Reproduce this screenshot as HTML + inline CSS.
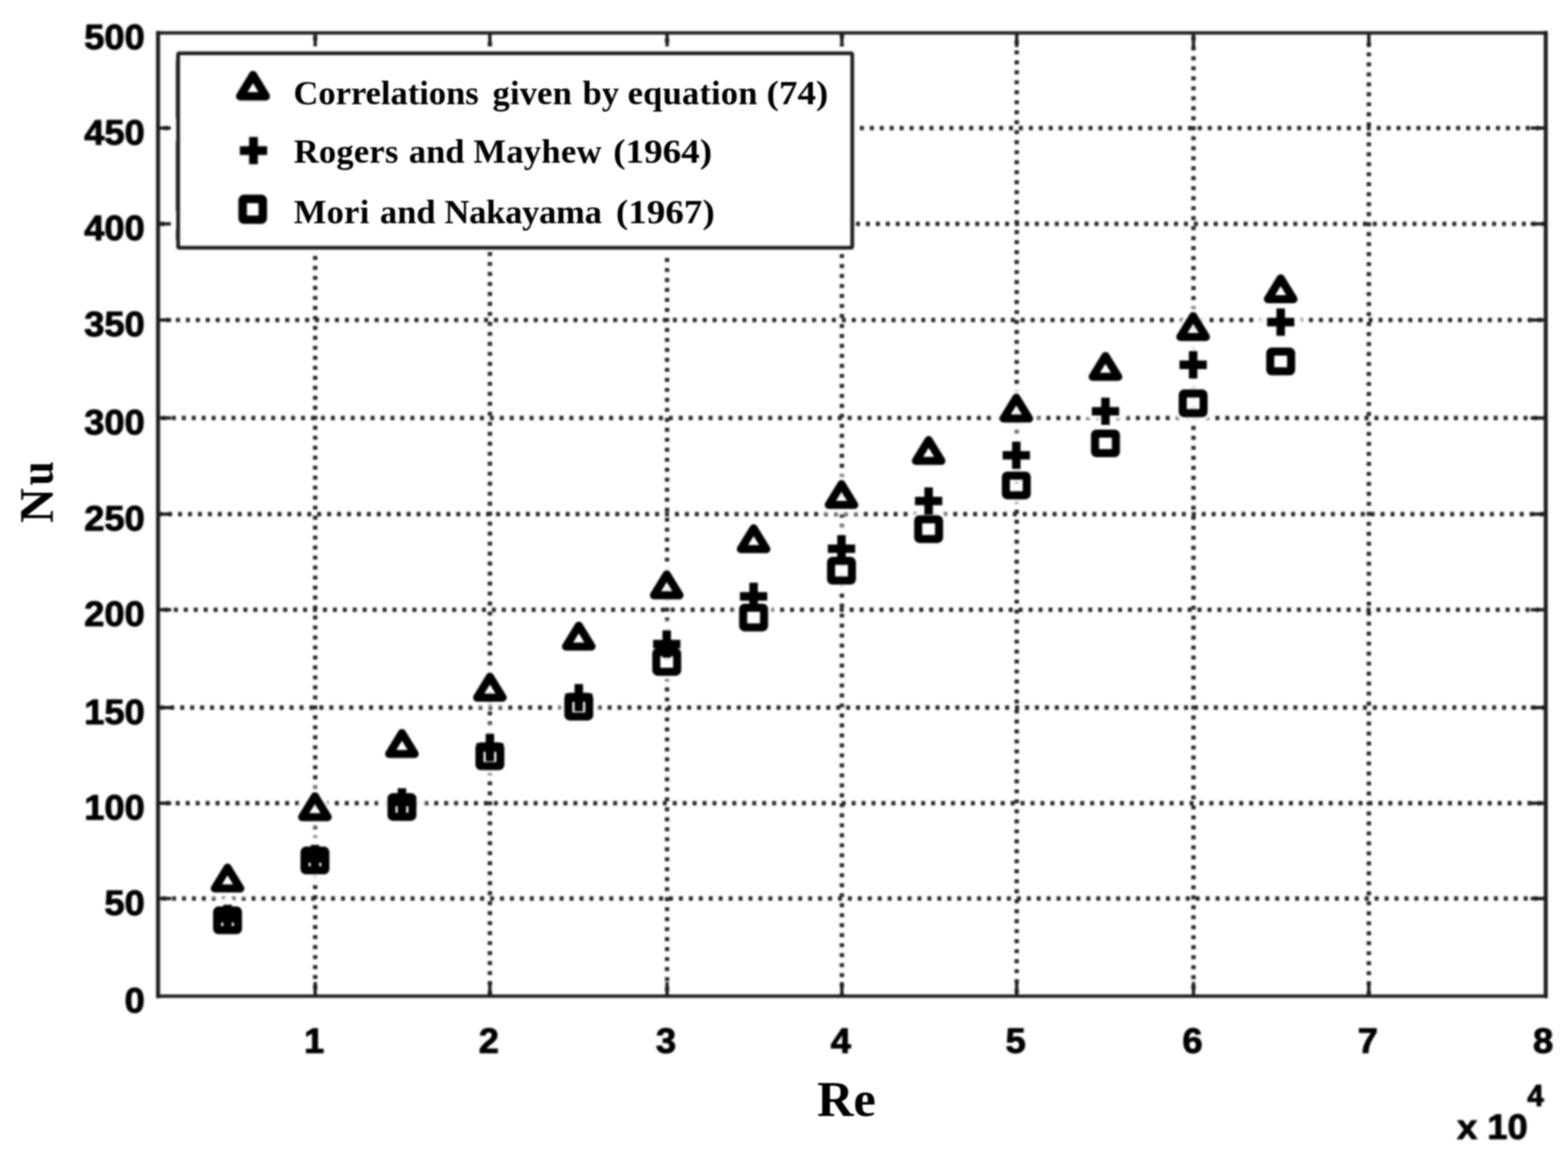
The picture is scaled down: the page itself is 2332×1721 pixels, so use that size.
<!DOCTYPE html>
<html lang="en"><head><meta charset="utf-8"><title>Nu versus Re</title>
<style>
html,body{margin:0;padding:0;background:#fff;}
body{width:2332px;height:1721px;overflow:hidden;}
svg{display:block;}
.tk{font-family:"Liberation Sans",sans-serif;font-weight:bold;font-size:52.6px;fill:#000;stroke:#000;stroke-width:1.3px;stroke-linejoin:round;}
.lg{font-family:"Liberation Serif",serif;font-weight:bold;font-size:51.3px;fill:#000;}
.ax{font-family:"Liberation Serif",serif;font-weight:bold;font-size:72px;fill:#000;}
</style></head><body>
<svg width="2332" height="1721" viewBox="0 0 2332 1721">
<defs><filter id="b" x="-5%" y="-5%" width="110%" height="110%" color-interpolation-filters="sRGB"><feGaussianBlur stdDeviation="1.7"/></filter><filter id="b2" x="-5%" y="-5%" width="110%" height="110%" color-interpolation-filters="sRGB"><feGaussianBlur stdDeviation="0.8"/></filter></defs>
<rect x="0" y="0" width="2332" height="1721" fill="#fff"/>
<g filter="url(#b)">
<g stroke="#262626" stroke-width="6.5" fill="none">
<path d="M468.8 53.91 V1481.8" stroke-dasharray="5.9 8.956"/>
<path d="M728.6 62.86 V1481.8" stroke-dasharray="5.9 8.956"/>
<path d="M992.1 56.96 V1481.8" stroke-dasharray="5.9 8.956"/>
<path d="M1252.1 51.06 V1481.8" stroke-dasharray="5.9 8.956"/>
<path d="M1512.1 60.02 V1481.8" stroke-dasharray="5.9 8.956"/>
<path d="M1775.0 54.12 V1481.8" stroke-dasharray="5.9 8.956"/>
<path d="M2035.8 63.07 V1481.8" stroke-dasharray="5.9 8.956"/>
<path d="M241.13 1336.6 H2298.9" stroke-dasharray="5.9 8.881"/>
<path d="M246.73 1194.8 H2298.9" stroke-dasharray="5.9 8.881"/>
<path d="M238.53 1052.5 H2298.9" stroke-dasharray="5.9 8.881"/>
<path d="M243.83 907.1 H2298.9" stroke-dasharray="5.9 8.881"/>
<path d="M235.25 764.8 H2298.9" stroke-dasharray="5.9 8.881"/>
<path d="M240.83 621.8 H2298.9" stroke-dasharray="5.9 8.881"/>
<path d="M246.93 476.0 H2298.9" stroke-dasharray="5.9 8.881"/>
<path d="M238.43 332.9 H2298.9" stroke-dasharray="5.9 8.881"/>
<path d="M244.23 190.6 H2298.9" stroke-dasharray="5.9 8.881"/>
</g>
<g stroke="#1e1e1e" stroke-width="5" fill="none">
<path d="M468.8 49.0 v21 M468.8 1481.8 v-21"/>
<path d="M728.6 49.0 v21 M728.6 1481.8 v-21"/>
<path d="M992.1 49.0 v21 M992.1 1481.8 v-21"/>
<path d="M1252.1 49.0 v21 M1252.1 1481.8 v-21"/>
<path d="M1512.1 49.0 v21 M1512.1 1481.8 v-21"/>
<path d="M1775.0 49.0 v21 M1775.0 1481.8 v-21"/>
<path d="M2035.8 49.0 v21 M2035.8 1481.8 v-21"/>
<path d="M235.1 1336.6 h19.5 M2298.9 1336.6 h-22.5"/>
<path d="M235.1 1194.8 h19.5 M2298.9 1194.8 h-22.5"/>
<path d="M235.1 1052.5 h19.5 M2298.9 1052.5 h-22.5"/>
<path d="M235.1 907.1 h19.5 M2298.9 907.1 h-22.5"/>
<path d="M235.1 764.8 h19.5 M2298.9 764.8 h-22.5"/>
<path d="M235.1 621.8 h19.5 M2298.9 621.8 h-22.5"/>
<path d="M235.1 476.0 h19.5 M2298.9 476.0 h-22.5"/>
<path d="M235.1 332.9 h19.5 M2298.9 332.9 h-22.5"/>
<path d="M235.1 190.6 h19.5 M2298.9 190.6 h-22.5"/>
</g>
<g stroke="#1e1e1e" fill="none" stroke-linecap="square"><path d="M235.1 49.0 H2298.9 M235.1 1481.8 H2298.9" stroke-width="5.0"/><path d="M235.1 49.0 V1481.8 M2298.9 49.0 V1481.8" stroke-width="6.0"/></g>
<g stroke="#fff" fill="none" stroke-linejoin="round" stroke-linecap="round" opacity="0.4">
<path d="M338.4 1290.6 L357.4 1321.6 L319.4 1321.6 Z" stroke-width="32.0"/>
<path d="M318.1 1366.0 H358.7 M338.4 1345.7 V1386.3" stroke-width="32.6"/>
<rect x="322.9" y="1354.3" width="31.0" height="29.2" rx="2" stroke-width="32.0"/>
<path d="M468.4 1184.4 L487.4 1215.4 L449.4 1215.4 Z" stroke-width="32.0"/>
<path d="M448.1 1277.0 H488.7 M468.4 1256.7 V1297.3" stroke-width="32.6"/>
<rect x="452.9" y="1265.3" width="31.0" height="29.2" rx="2" stroke-width="32.0"/>
<path d="M597.8 1090.4 L616.8 1121.4 L578.8 1121.4 Z" stroke-width="32.0"/>
<path d="M577.5 1192.9 H618.1 M597.8 1172.6 V1213.2" stroke-width="32.6"/>
<rect x="582.3" y="1185.7" width="31.0" height="29.2" rx="2" stroke-width="32.0"/>
<path d="M728.6 1006.7 L747.6 1037.7 L709.6 1037.7 Z" stroke-width="32.0"/>
<path d="M708.3 1111.9 H748.9 M728.6 1091.6 V1132.2" stroke-width="32.6"/>
<rect x="713.1" y="1110.3" width="31.0" height="29.2" rx="2" stroke-width="32.0"/>
<path d="M860.8 930.7 L879.8 961.7 L841.8 961.7 Z" stroke-width="32.0"/>
<path d="M840.5 1037.8 H881.1 M860.8 1017.5 V1058.1" stroke-width="32.6"/>
<rect x="845.3" y="1036.5" width="31.0" height="29.2" rx="2" stroke-width="32.0"/>
<path d="M991.6 854.4 L1010.6 885.4 L972.6 885.4 Z" stroke-width="32.0"/>
<path d="M971.3 958.0 H1011.9 M991.6 937.7 V978.3" stroke-width="32.6"/>
<rect x="976.1" y="970.0" width="31.0" height="29.2" rx="2" stroke-width="32.0"/>
<path d="M1120.8 785.8 L1139.8 816.8 L1101.8 816.8 Z" stroke-width="32.0"/>
<path d="M1100.5 887.1 H1141.1 M1120.8 866.8 V907.4" stroke-width="32.6"/>
<rect x="1105.3" y="904.0" width="31.0" height="29.2" rx="2" stroke-width="32.0"/>
<path d="M1251.5 720.1 L1270.5 751.1 L1232.5 751.1 Z" stroke-width="32.0"/>
<path d="M1231.2 816.2 H1271.8 M1251.5 795.9 V836.5" stroke-width="32.6"/>
<rect x="1236.0" y="834.3" width="31.0" height="29.2" rx="2" stroke-width="32.0"/>
<path d="M1381.1 654.6 L1400.1 685.6 L1362.1 685.6 Z" stroke-width="32.0"/>
<path d="M1360.8 745.3 H1401.4 M1381.1 725.0 V765.6" stroke-width="32.6"/>
<rect x="1365.6" y="772.5" width="31.0" height="29.2" rx="2" stroke-width="32.0"/>
<path d="M1511.5 591.6 L1530.5 622.6 L1492.5 622.6 Z" stroke-width="32.0"/>
<path d="M1491.2 677.2 H1531.8 M1511.5 656.9 V697.5" stroke-width="32.6"/>
<rect x="1496.0" y="707.5" width="31.0" height="29.2" rx="2" stroke-width="32.0"/>
<path d="M1644.1 529.5 L1663.1 560.5 L1625.1 560.5 Z" stroke-width="32.0"/>
<path d="M1623.8 611.8 H1664.4 M1644.1 591.5 V632.1" stroke-width="32.6"/>
<rect x="1628.6" y="644.9" width="31.0" height="29.2" rx="2" stroke-width="32.0"/>
<path d="M1774.5 470.2 L1793.5 501.2 L1755.5 501.2 Z" stroke-width="32.0"/>
<path d="M1754.2 542.6 H1794.8 M1774.5 522.3 V562.9" stroke-width="32.6"/>
<rect x="1759.0" y="585.3" width="31.0" height="29.2" rx="2" stroke-width="32.0"/>
<path d="M1904.7 414.0 L1923.7 445.0 L1885.7 445.0 Z" stroke-width="32.0"/>
<path d="M1884.4 479.1 H1925.0 M1904.7 458.8 V499.4" stroke-width="32.6"/>
<rect x="1889.2" y="523.1" width="31.0" height="29.2" rx="2" stroke-width="32.0"/>
</g>
<g stroke="#fff" fill="none" stroke-linejoin="round" stroke-linecap="round" opacity="0.85">
<path d="M338.4 1290.6 L357.4 1321.6 L319.4 1321.6 Z" stroke-width="22.0"/>
<path d="M318.1 1366.0 H358.7 M338.4 1345.7 V1386.3" stroke-width="22.6"/>
<rect x="322.9" y="1354.3" width="31.0" height="29.2" rx="2" stroke-width="22.0"/>
<path d="M468.4 1184.4 L487.4 1215.4 L449.4 1215.4 Z" stroke-width="22.0"/>
<path d="M448.1 1277.0 H488.7 M468.4 1256.7 V1297.3" stroke-width="22.6"/>
<rect x="452.9" y="1265.3" width="31.0" height="29.2" rx="2" stroke-width="22.0"/>
<path d="M597.8 1090.4 L616.8 1121.4 L578.8 1121.4 Z" stroke-width="22.0"/>
<path d="M577.5 1192.9 H618.1 M597.8 1172.6 V1213.2" stroke-width="22.6"/>
<rect x="582.3" y="1185.7" width="31.0" height="29.2" rx="2" stroke-width="22.0"/>
<path d="M728.6 1006.7 L747.6 1037.7 L709.6 1037.7 Z" stroke-width="22.0"/>
<path d="M708.3 1111.9 H748.9 M728.6 1091.6 V1132.2" stroke-width="22.6"/>
<rect x="713.1" y="1110.3" width="31.0" height="29.2" rx="2" stroke-width="22.0"/>
<path d="M860.8 930.7 L879.8 961.7 L841.8 961.7 Z" stroke-width="22.0"/>
<path d="M840.5 1037.8 H881.1 M860.8 1017.5 V1058.1" stroke-width="22.6"/>
<rect x="845.3" y="1036.5" width="31.0" height="29.2" rx="2" stroke-width="22.0"/>
<path d="M991.6 854.4 L1010.6 885.4 L972.6 885.4 Z" stroke-width="22.0"/>
<path d="M971.3 958.0 H1011.9 M991.6 937.7 V978.3" stroke-width="22.6"/>
<rect x="976.1" y="970.0" width="31.0" height="29.2" rx="2" stroke-width="22.0"/>
<path d="M1120.8 785.8 L1139.8 816.8 L1101.8 816.8 Z" stroke-width="22.0"/>
<path d="M1100.5 887.1 H1141.1 M1120.8 866.8 V907.4" stroke-width="22.6"/>
<rect x="1105.3" y="904.0" width="31.0" height="29.2" rx="2" stroke-width="22.0"/>
<path d="M1251.5 720.1 L1270.5 751.1 L1232.5 751.1 Z" stroke-width="22.0"/>
<path d="M1231.2 816.2 H1271.8 M1251.5 795.9 V836.5" stroke-width="22.6"/>
<rect x="1236.0" y="834.3" width="31.0" height="29.2" rx="2" stroke-width="22.0"/>
<path d="M1381.1 654.6 L1400.1 685.6 L1362.1 685.6 Z" stroke-width="22.0"/>
<path d="M1360.8 745.3 H1401.4 M1381.1 725.0 V765.6" stroke-width="22.6"/>
<rect x="1365.6" y="772.5" width="31.0" height="29.2" rx="2" stroke-width="22.0"/>
<path d="M1511.5 591.6 L1530.5 622.6 L1492.5 622.6 Z" stroke-width="22.0"/>
<path d="M1491.2 677.2 H1531.8 M1511.5 656.9 V697.5" stroke-width="22.6"/>
<rect x="1496.0" y="707.5" width="31.0" height="29.2" rx="2" stroke-width="22.0"/>
<path d="M1644.1 529.5 L1663.1 560.5 L1625.1 560.5 Z" stroke-width="22.0"/>
<path d="M1623.8 611.8 H1664.4 M1644.1 591.5 V632.1" stroke-width="22.6"/>
<rect x="1628.6" y="644.9" width="31.0" height="29.2" rx="2" stroke-width="22.0"/>
<path d="M1774.5 470.2 L1793.5 501.2 L1755.5 501.2 Z" stroke-width="22.0"/>
<path d="M1754.2 542.6 H1794.8 M1774.5 522.3 V562.9" stroke-width="22.6"/>
<rect x="1759.0" y="585.3" width="31.0" height="29.2" rx="2" stroke-width="22.0"/>
<path d="M1904.7 414.0 L1923.7 445.0 L1885.7 445.0 Z" stroke-width="22.0"/>
<path d="M1884.4 479.1 H1925.0 M1904.7 458.8 V499.4" stroke-width="22.6"/>
<rect x="1889.2" y="523.1" width="31.0" height="29.2" rx="2" stroke-width="22.0"/>
</g>
<g stroke="#000" fill="none" stroke-linejoin="round" stroke-linecap="butt">
<path d="M338.4 1290.6 L357.4 1321.6 L319.4 1321.6 Z" stroke-width="12.0"/>
<path d="M318.1 1366.0 H358.7 M338.4 1345.7 V1386.3" stroke-width="12.6"/>
<rect x="322.9" y="1354.3" width="31.0" height="29.2" rx="2" stroke-width="12.0"/>
<path d="M468.4 1184.4 L487.4 1215.4 L449.4 1215.4 Z" stroke-width="12.0"/>
<path d="M448.1 1277.0 H488.7 M468.4 1256.7 V1297.3" stroke-width="12.6"/>
<rect x="452.9" y="1265.3" width="31.0" height="29.2" rx="2" stroke-width="12.0"/>
<path d="M597.8 1090.4 L616.8 1121.4 L578.8 1121.4 Z" stroke-width="12.0"/>
<path d="M577.5 1192.9 H618.1 M597.8 1172.6 V1213.2" stroke-width="12.6"/>
<rect x="582.3" y="1185.7" width="31.0" height="29.2" rx="2" stroke-width="12.0"/>
<path d="M728.6 1006.7 L747.6 1037.7 L709.6 1037.7 Z" stroke-width="12.0"/>
<path d="M708.3 1111.9 H748.9 M728.6 1091.6 V1132.2" stroke-width="12.6"/>
<rect x="713.1" y="1110.3" width="31.0" height="29.2" rx="2" stroke-width="12.0"/>
<path d="M860.8 930.7 L879.8 961.7 L841.8 961.7 Z" stroke-width="12.0"/>
<path d="M840.5 1037.8 H881.1 M860.8 1017.5 V1058.1" stroke-width="12.6"/>
<rect x="845.3" y="1036.5" width="31.0" height="29.2" rx="2" stroke-width="12.0"/>
<path d="M991.6 854.4 L1010.6 885.4 L972.6 885.4 Z" stroke-width="12.0"/>
<path d="M971.3 958.0 H1011.9 M991.6 937.7 V978.3" stroke-width="12.6"/>
<rect x="976.1" y="970.0" width="31.0" height="29.2" rx="2" stroke-width="12.0"/>
<path d="M1120.8 785.8 L1139.8 816.8 L1101.8 816.8 Z" stroke-width="12.0"/>
<path d="M1100.5 887.1 H1141.1 M1120.8 866.8 V907.4" stroke-width="12.6"/>
<rect x="1105.3" y="904.0" width="31.0" height="29.2" rx="2" stroke-width="12.0"/>
<path d="M1251.5 720.1 L1270.5 751.1 L1232.5 751.1 Z" stroke-width="12.0"/>
<path d="M1231.2 816.2 H1271.8 M1251.5 795.9 V836.5" stroke-width="12.6"/>
<rect x="1236.0" y="834.3" width="31.0" height="29.2" rx="2" stroke-width="12.0"/>
<path d="M1381.1 654.6 L1400.1 685.6 L1362.1 685.6 Z" stroke-width="12.0"/>
<path d="M1360.8 745.3 H1401.4 M1381.1 725.0 V765.6" stroke-width="12.6"/>
<rect x="1365.6" y="772.5" width="31.0" height="29.2" rx="2" stroke-width="12.0"/>
<path d="M1511.5 591.6 L1530.5 622.6 L1492.5 622.6 Z" stroke-width="12.0"/>
<path d="M1491.2 677.2 H1531.8 M1511.5 656.9 V697.5" stroke-width="12.6"/>
<rect x="1496.0" y="707.5" width="31.0" height="29.2" rx="2" stroke-width="12.0"/>
<path d="M1644.1 529.5 L1663.1 560.5 L1625.1 560.5 Z" stroke-width="12.0"/>
<path d="M1623.8 611.8 H1664.4 M1644.1 591.5 V632.1" stroke-width="12.6"/>
<rect x="1628.6" y="644.9" width="31.0" height="29.2" rx="2" stroke-width="12.0"/>
<path d="M1774.5 470.2 L1793.5 501.2 L1755.5 501.2 Z" stroke-width="12.0"/>
<path d="M1754.2 542.6 H1794.8 M1774.5 522.3 V562.9" stroke-width="12.6"/>
<rect x="1759.0" y="585.3" width="31.0" height="29.2" rx="2" stroke-width="12.0"/>
<path d="M1904.7 414.0 L1923.7 445.0 L1885.7 445.0 Z" stroke-width="12.0"/>
<path d="M1884.4 479.1 H1925.0 M1904.7 458.8 V499.4" stroke-width="12.6"/>
<rect x="1889.2" y="523.1" width="31.0" height="29.2" rx="2" stroke-width="12.0"/>
</g>
<g class="tk" text-anchor="end">
<text transform="translate(215.3 1505.9) scale(1.027 1.0)">0</text>
<text transform="translate(215.3 1360.7) scale(1.027 1.0)">50</text>
<text transform="translate(215.3 1218.9) scale(1.027 1.0)">100</text>
<text transform="translate(215.3 1076.6) scale(1.027 1.0)">150</text>
<text transform="translate(215.3 931.2) scale(1.027 1.0)">200</text>
<text transform="translate(215.3 788.9) scale(1.027 1.0)">250</text>
<text transform="translate(215.3 645.9) scale(1.027 1.0)">300</text>
<text transform="translate(215.3 500.1) scale(1.027 1.0)">350</text>
<text transform="translate(215.3 357.0) scale(1.027 1.0)">400</text>
<text transform="translate(215.3 214.7) scale(1.027 1.0)">450</text>
<text transform="translate(215.3 73.1) scale(1.027 1.0)">500</text>
</g>
<g class="tk" text-anchor="middle">
<text transform="translate(467.3 1565.9) scale(1.027 1.0)">1</text>
<text transform="translate(727.1 1565.9) scale(1.027 1.0)">2</text>
<text transform="translate(990.6 1565.9) scale(1.027 1.0)">3</text>
<text transform="translate(1250.6 1565.9) scale(1.027 1.0)">4</text>
<text transform="translate(1510.6 1565.9) scale(1.027 1.0)">5</text>
<text transform="translate(1773.5 1565.9) scale(1.027 1.0)">6</text>
<text transform="translate(2034.3 1565.9) scale(1.027 1.0)">7</text>
<text transform="translate(2295.0 1565.9) scale(1.027 1.0)">8</text>
</g>
<text class="tk" transform="translate(2167 1693.5) scale(1.027 1)">x 10</text>
<text class="tk" x="2271.5" y="1644.5" style="font-size:44px">4</text>
<rect x="254" y="69" width="1018" height="306" fill="#fff"/>
<rect x="264.9" y="79.2" width="1002.6" height="289.3" rx="1.5" fill="#fff" stroke="#1e1e1e" stroke-width="5.6"/>
<path d="M262.6 90 V176 M262.6 210 V314 M262.6 342 V356" stroke="#1e1e1e" stroke-width="2.2" fill="none"/>
<g stroke="#000" fill="none" stroke-linejoin="round">
<path d="M376.3 111.6 L395.4 143.2 L357.2 143.2 Z" stroke-width="12.4"/>
<path d="M356.7 224.0 H397.3 M377.0 203.7 V244.3" stroke-width="13.0"/>
<rect x="360.9" y="295.9" width="29.9" height="30.9" rx="2" stroke-width="12.6"/>
</g>
</g>
<g class="lg" filter="url(#b2)">
<text y="155.3"><tspan x="436.5">Correlations</tspan> <tspan x="732.5" style="letter-spacing:0.27px">given</tspan> <tspan x="866.5">by</tspan> <tspan x="933.5" style="letter-spacing:0.29px">equation</tspan> <tspan x="1140" textLength="92.0" lengthAdjust="spacingAndGlyphs">(74)</tspan></text>
<text y="242.1"><tspan x="437" style="letter-spacing:0.3px">Rogers</tspan> <tspan x="608">and</tspan> <tspan x="704" style="letter-spacing:0.48px">Mayhew</tspan> <tspan x="912" textLength="147.0" lengthAdjust="spacingAndGlyphs">(1964)</tspan></text>
<text y="331.5"><tspan x="437" style="letter-spacing:0.4px">Mori</tspan> <tspan x="565">and</tspan> <tspan x="661" style="letter-spacing:-0.36px">Nakayama</tspan> <tspan x="916" textLength="147.0" lengthAdjust="spacingAndGlyphs">(1967)</tspan></text>
</g>
<g class="ax" filter="url(#b2)">
<text x="1215.2" y="1660.2" style="font-size:75px">Re</text>
<text transform="translate(78.5 778) rotate(-90)">N<tspan dx="3.8" textLength="36.2" lengthAdjust="spacingAndGlyphs">u</tspan></text>
</g>
</svg>
</body></html>
